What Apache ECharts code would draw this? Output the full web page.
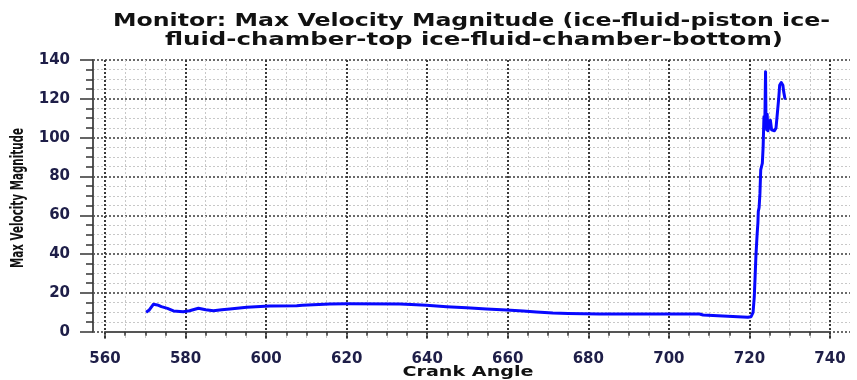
<!DOCTYPE html>
<html>
<head>
<meta charset="utf-8">
<script src="https://cdn.jsdelivr.net/npm/echarts@6/dist/echarts.min.js"></script>
<style>
  html, body { margin: 0; padding: 0; background: #ffffff; }
  #chart { width: 857px; height: 380px; }
</style>
</head>
<body>
<div id="chart"></div>
<script>
// Monitor history: max velocity magnitude against crank angle
const titleLines = [
  'Monitor: Max Velocity Magnitude (ice-fluid-piston ice-',
  'fluid-chamber-top ice-fluid-chamber-bottom)'
];
const xAxisName = 'Crank Angle';
const yAxisName = 'Max Velocity Magnitude';

const crankAngle = [
  570.2, 571.0, 572.0, 573.0, 574.0, 575.5, 577.0, 579.4, 581.0, 583.2,
  585.0, 586.9, 589.0, 591.0, 595.2, 599.7, 601.0, 607.6, 609.0, 615.8,
  620.0, 633.2, 636.0, 639.8, 644.8, 649.8, 654.7, 659.7, 663.8, 667.1,
  671.2, 675.0, 682.8, 707.6, 708.5, 713.4, 719.6, 720.4, 720.6, 720.9,
  721.2, 721.4, 721.6, 721.9, 722.1, 722.2, 722.4, 722.6, 722.8, 723.2,
  723.4, 723.6, 723.8, 724.0, 724.1, 724.3, 724.4, 724.6, 724.8, 725.0,
  725.2, 725.5, 725.8, 726.2, 726.6, 727.0, 727.3, 727.5, 727.9, 728.3,
  728.5, 728.8, 729.0
];
const maxVelocity = [
  10.0, 11.2, 14.1, 13.8, 12.9, 12.0, 10.7, 10.3, 10.8, 12.1,
  11.3, 10.8, 11.3, 11.7, 12.6, 13.1, 13.2, 13.4, 13.6, 14.3,
  14.4, 14.3, 14.0, 13.6, 12.9, 12.4, 11.7, 11.2, 10.7, 10.2,
  9.6, 9.4, 9.1, 9.1, 8.6, 8.1, 7.4, 7.7, 7.6, 10.0,
  18.0, 28.0, 38.7, 50.0, 56.0, 62.0, 64.0, 71.0, 83.4, 86.8,
  95.4, 110.8, 105.0, 134.0, 110.8, 104.0, 112.0, 103.5, 108.0, 105.0,
  109.0, 104.0, 105.0, 103.5, 105.0, 104.0, 121.0, 127.0, 128.4, 127.0,
  123.7, 120.3, 120.5
];

const xMin = 560, xMax = 740, xStep = 20;
const yMin = 0, yMax = 140, yStep = 20;

const labelFont = { fontFamily: 'DejaVu Sans', fontWeight: 'bold', fontSize: 15, color: '#1e1e48' };
const majorGrid = { show: true, lineStyle: { color: '#3a3a3a', width: 1.5, type: [2, 2] } };
const majorGridV = { show: true, lineStyle: { color: '#3a3a3a', width: 2, type: [2, 2] } };
const minorGrid = { show: true, lineStyle: { color: '#c8c8c8', width: 1, type: [2, 2] } };

// Wide-set heading text: measure the natural width and stretch it to the wanted span.
const measureCtx = document.createElement('canvas').getContext('2d');
function stretchedText(text, font, cx, cy, span, rotation, thick) {
  measureCtx.font = font.fontWeight + ' ' + font.fontSize + 'px ' + font.fontFamily;
  const natural = measureCtx.measureText(text).width;
  return {
    type: 'text',
    x: cx, y: cy,
    rotation: rotation || 0,
    scaleX: span / natural,
    scaleY: thick || 1,
    silent: true,
    style: {
      text: text,
      fontFamily: font.fontFamily,
      fontWeight: font.fontWeight,
      fontSize: font.fontSize,
      fill: '#111111',
      align: 'center',
      verticalAlign: 'middle'
    }
  };
}

const headFont = { fontFamily: 'DejaVu Sans', fontWeight: 'bold', fontSize: 18 };
const nameFont = { fontFamily: 'DejaVu Sans', fontWeight: 'bold', fontSize: 14 };
const yNameFont = { fontFamily: 'DejaVu Sans', fontWeight: 'bold', fontSize: 15 };

const chart = echarts.init(document.getElementById('chart'), null, { renderer: 'canvas' });

chart.setOption({
  animation: false,
  backgroundColor: '#ffffff',
  graphic: [
    stretchedText(titleLines[0], headFont, 471.5, 21, 717),
    stretchedText(titleLines[1], headFont, 474, 40, 618),
    stretchedText(xAxisName, nameFont, 468, 372, 131),
    stretchedText(yAxisName, yNameFont, 18, 198, 140, Math.PI / 2, 1.2)
  ],
  grid: [
    // plotting area with the axes
    { left: 105, right: 27, top: 60, bottom: 48.3, outerBoundsMode: 'none' },
    // horizontal grid lines, running out to the left axis
    { left: 93, right: 7, top: 60, bottom: 48.3, outerBoundsMode: 'none' },
    // vertical grid lines, running down to the bottom axis
    { left: 105, right: 27, top: 60, bottom: 41, outerBoundsMode: 'none' }
  ],
  xAxis: [
    {
      gridIndex: 0, type: 'value', min: xMin, max: xMax, interval: xStep,
      offset: 7,
      axisLine: { show: true, lineStyle: { color: '#555555', width: 2 } },
      axisTick: { show: true, length: 7, lineStyle: { color: '#333333', width: 1.5 } },
      minorTick: { show: true, splitNumber: 4, length: 4, lineStyle: { color: '#333333', width: 1.5 } },
      axisLabel: Object.assign({ margin: 13 }, labelFont),
      splitLine: { show: false }
    },
    { gridIndex: 1, type: 'value', min: 0, max: 1, show: false },
    {
      gridIndex: 2, type: 'value', min: xMin, max: xMax, interval: xStep,
      axisLine: { show: false }, axisTick: { show: false }, axisLabel: { show: false },
      splitLine: majorGridV,
      minorTick: { show: false, splitNumber: 4 },
      minorSplitLine: minorGrid
    }
  ],
  yAxis: [
    {
      gridIndex: 0, type: 'value', min: yMin, max: yMax, interval: yStep,
      offset: 12,
      axisLine: { show: true, lineStyle: { color: '#555555', width: 2 } },
      axisTick: { show: true, length: 13, lineStyle: { color: '#333333', width: 1.5 } },
      minorTick: { show: true, splitNumber: 4, length: 7, lineStyle: { color: '#333333', width: 1.5 } },
      axisLabel: Object.assign({ margin: 23 }, labelFont),
      splitLine: { show: false }
    },
    {
      gridIndex: 1, type: 'value', min: yMin, max: yMax, interval: yStep,
      axisLine: { show: false }, axisTick: { show: false }, axisLabel: { show: false },
      splitLine: majorGrid,
      minorTick: { show: false, splitNumber: 4 },
      minorSplitLine: minorGrid
    },
    { gridIndex: 2, type: 'value', min: 0, max: 1, show: false }
  ],
  series: [
    {
      type: 'line',
      xAxisIndex: 0, yAxisIndex: 0,
      data: crankAngle.map((a, i) => [a, maxVelocity[i]]),
      showSymbol: false, symbol: 'none',
      smooth: false,
      lineStyle: { color: '#0808ff', width: 3, join: 'round' },
      z: 5
    }
  ]
});
</script>
</body>
</html>
